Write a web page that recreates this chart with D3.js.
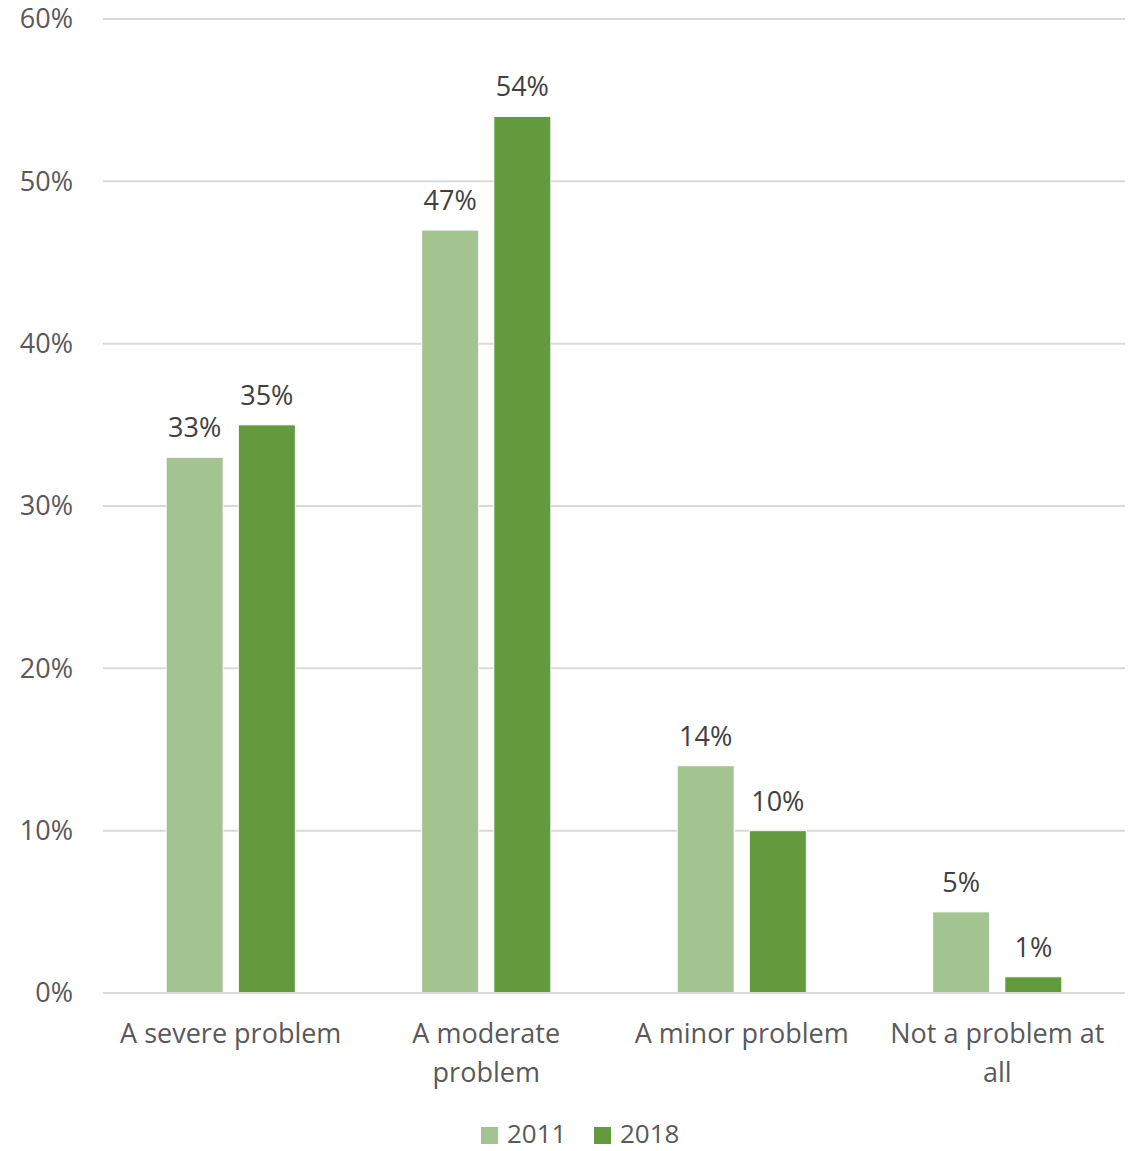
<!DOCTYPE html>
<html><head><meta charset="utf-8">
<script src="https://cdn.jsdelivr.net/npm/d3@7"></script>
<style>body{margin:0;background:#fff;} svg{display:block;font-family:"Open Sans","Noto Sans",sans-serif;}</style>
</head><body>
<svg id="chart" width="1142" height="1151"></svg>
<script>
const categories = ["A severe problem", "A moderate problem", "A minor problem", "Not a problem at all"];
const seriesNames = ["2011", "2018"];
const values2011 = [33, 47, 14, 5];
const values2018 = [35, 54, 10, 1];
const yTicks = [0, 10, 20, 30, 40, 50, 60];
const colors = ["#a3c490", "#629a3d"];

const svg = d3.select("#chart");
const margin = {left: 103, right: 17, top: 19, bottom: 158};
const W = 1142, H = 1151;
const FS = 27;
const x0 = d3.scaleBand().domain(categories).range([margin.left, W - margin.right]).paddingInner(0).paddingOuter(0);
const x1 = d3.scaleBand().domain(seriesNames).range([0, x0.bandwidth()]).paddingInner(0.21).paddingOuter(0.875);
const y = d3.scaleLinear().domain([0, 60]).range([H - margin.bottom, margin.top]);

// gridlines
svg.append("g").selectAll("line").data(yTicks).join("line")
  .attr("x1", margin.left).attr("x2", W - margin.right)
  .attr("y1", d => y(d)).attr("y2", d => y(d))
  .attr("stroke", "#d9d9d9").attr("stroke-width", 2);

// y labels
svg.append("g").selectAll("text").data(yTicks).join("text")
  .attr("x", 73).attr("y", d => y(d)).attr("dy", "0.35em")
  .attr("text-anchor", "end").attr("font-size", FS).attr("fill", "#595959")
  .text(d => d + "%");

const data = categories.map((c, i) => ({cat: c, vals: [{s: "2011", v: values2011[i]}, {s: "2018", v: values2018[i]}]}));

const g = svg.append("g").selectAll("g").data(data).join("g")
  .attr("transform", d => `translate(${x0(d.cat)},0)`);
g.selectAll("rect").data(d => d.vals).join("rect")
  .attr("x", d => x1(d.s)).attr("width", x1.bandwidth())
  .attr("y", d => y(d.v)).attr("height", d => y(0) - y(d.v))
  .attr("fill", (d, i) => colors[i]).attr("stroke", "#fff").attr("stroke-width", 1);
g.selectAll("text").data(d => d.vals).join("text")
  .attr("x", d => x1(d.s) + x1.bandwidth() / 2).attr("y", d => y(d.v) - 20)
  .attr("text-anchor", "middle").attr("font-size", FS).attr("fill", "#404040")
  .text(d => d.v + "%");

// axis line (baseline)
svg.append("line").attr("x1", margin.left).attr("x2", W - margin.right)
  .attr("y1", y(0)).attr("y2", y(0)).attr("stroke", "#d9d9d9").attr("stroke-width", 2);

// category labels with wrapping
const maxW = 240;
const cl = svg.append("g").selectAll("text").data(categories).join("text")
  .attr("x", d => x0(d) + x0.bandwidth() / 2).attr("y", 1043)
  .attr("text-anchor", "middle").attr("font-size", FS).attr("fill", "#595959");
cl.each(function(d) {
  const t = d3.select(this);
  const words = d.split(" ");
  let line = [];
  let tspan = t.append("tspan").attr("x", t.attr("x")).attr("dy", 0);
  words.forEach(w => {
    line.push(w);
    tspan.text(line.join(" "));
    if (tspan.node().getComputedTextLength() > maxW && line.length > 1) {
      line.pop();
      tspan.text(line.join(" "));
      line = [w];
      tspan = t.append("tspan").attr("x", t.attr("x")).attr("dy", 39).text(w);
    }
  });
});

// legend
const lg = svg.append("g");
const legendX = [481, 594];
seriesNames.forEach((s, i) => {
  lg.append("rect").attr("x", legendX[i]).attr("y", 1127).attr("width", 17).attr("height", 17).attr("fill", colors[i]);
  lg.append("text").attr("x", legendX[i] + 26).attr("y", 1134).attr("dy", "0.35em")
    .attr("font-size", 26).attr("fill", "#595959").text(s);
});
</script>
</body></html>
